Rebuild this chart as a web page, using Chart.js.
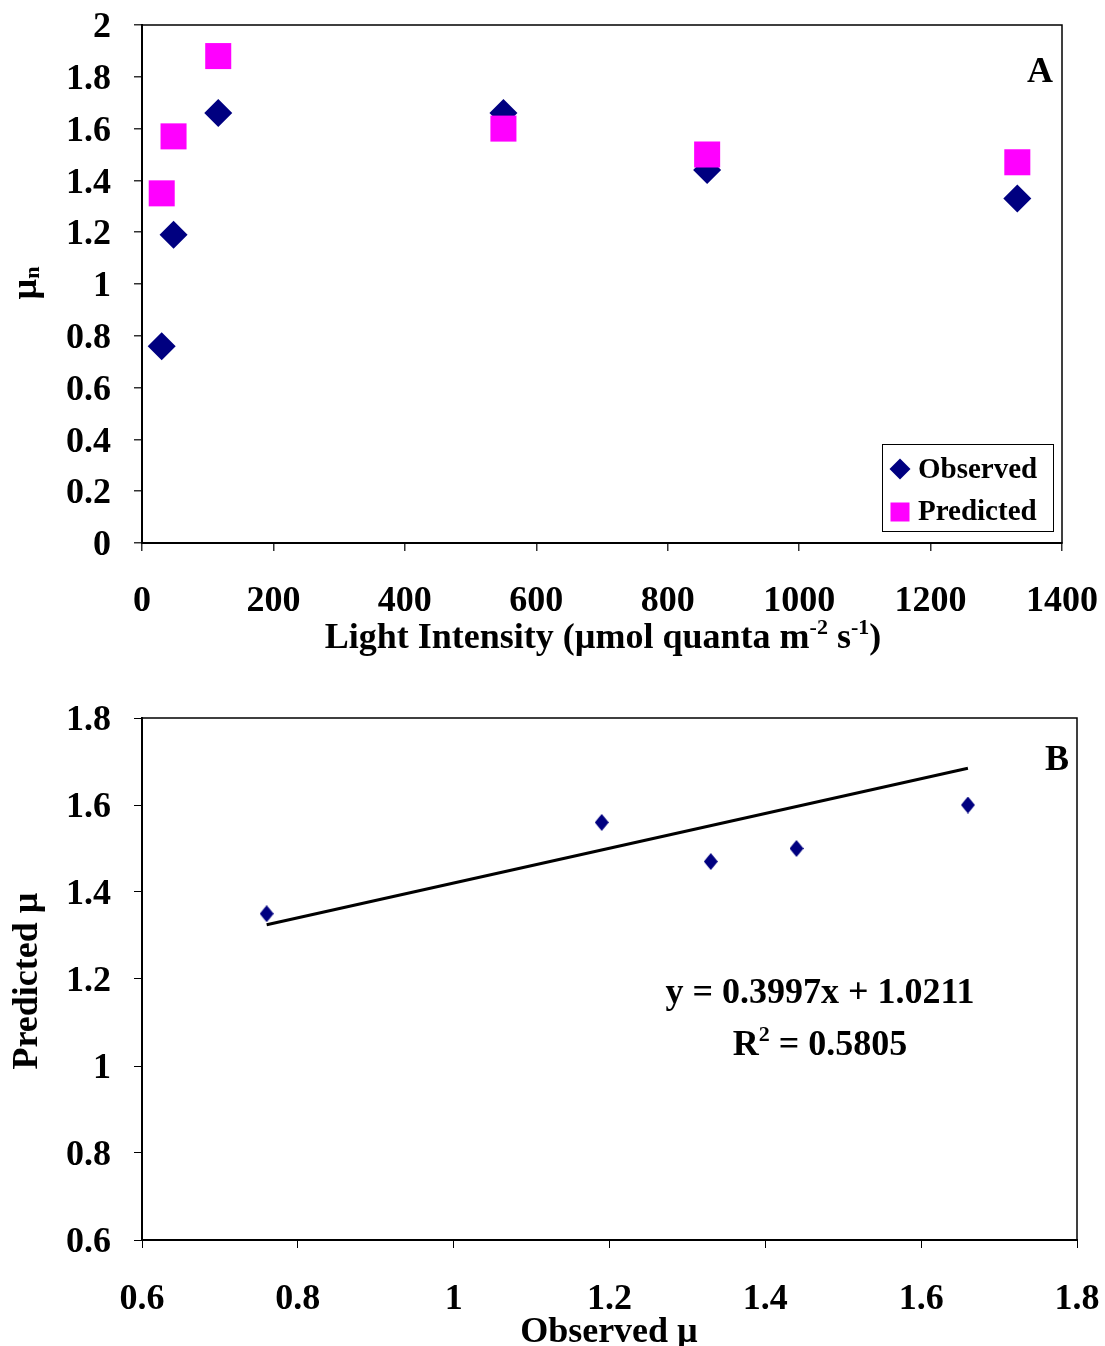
<!DOCTYPE html>
<html>
<head>
<meta charset="utf-8">
<script src="https://cdn.jsdelivr.net/npm/chart.js@4.4.1/dist/chart.umd.min.js"></script>
<style>
body{margin:0;background:#fff;}
#cajaA{position:absolute;left:0;top:0;width:1105px;height:665px;}
#cajaB{position:absolute;left:0;top:665px;width:1105px;height:681px;}
</style>
</head>
<body>
<div id="cajaA"><canvas id="chart_A"></canvas></div>
<div id="cajaB"><canvas id="chart_B"></canvas></div>
<script>
// panel A data
let luz = [30, 48, 116, 550, 860, 1332];
let observado = [0.76, 1.19, 1.66, 1.66, 1.44, 1.33];
let predicho = [1.35, 1.57, 1.88, 1.60, 1.50, 1.47];

// panel B data
let obsB = [0.76, 1.19, 1.33, 1.44, 1.66];
let predB = [1.35, 1.56, 1.47, 1.50, 1.60];
let pendiente = 0.3997;
let intercepto = 1.0211;

let serif = "'Liberation Serif', 'Times New Roman', serif";
Chart.defaults.font.family = serif;
Chart.defaults.font.weight = 'bold';
Chart.defaults.color = '#000';

function texto(ctx, partes, x, y, rot) {
    ctx.save();
    ctx.translate(x, y);
    if (rot) ctx.rotate(rot);
    ctx.textBaseline = 'alphabetic';
    ctx.textAlign = 'left';
    ctx.fillStyle = '#000';
    let total = 0;
    partes.forEach(p => { ctx.font = 'bold ' + p.s + 'px ' + serif; total += ctx.measureText(p.t).width; });
    let cx = -total / 2;
    partes.forEach(p => {
        ctx.font = 'bold ' + p.s + 'px ' + serif;
        ctx.fillText(p.t, cx, p.dy || 0);
        cx += ctx.measureText(p.t).width;
    });
    ctx.restore();
}

function marco(chart) {
    let a = chart.chartArea, ctx = chart.ctx;
    ctx.save();
    ctx.strokeStyle = '#000';
    ctx.lineWidth = 1.5;
    ctx.strokeRect(a.left, a.top, a.right - a.left, a.bottom - a.top);
    ctx.restore();
}

// keep the plot area where layout padding puts it
function fijar(ancho, alto) {
    return s => {
        if (ancho) s.width = ancho;
        if (alto) s.height = alto;
        s.paddingTop = 0; s.paddingBottom = 0; s.paddingLeft = 0; s.paddingRight = 0;
    };
}

let etiqueta = v => String(Math.round(v * 10) / 10);
let ejeTicks = {font: {size: 36, weight: 'bold'}, color: '#000', callback: etiqueta};

let extrasA = {
    id: 'extrasA',
    afterDraw(chart) {
        let ctx = chart.ctx;
        marco(chart);
        texto(ctx, [{t: 'Light Intensity (µmol quanta m', s: 36}, {t: '-2', s: 22, dy: -14}, {t: ' s', s: 36}, {t: '-1', s: 22, dy: -14}, {t: ')', s: 36}], 603, 648);
        texto(ctx, [{t: 'µ', s: 36}, {t: 'n', s: 22, dy: 3}], 36, 283, -Math.PI / 2);
        texto(ctx, [{t: 'A', s: 36}], 1040, 82);
        // legend
        ctx.save();
        ctx.strokeStyle = '#000';
        ctx.lineWidth = 1;
        ctx.strokeRect(882.5, 444.5, 171, 87);
        ctx.fillStyle = '#000080';
        ctx.beginPath();
        ctx.moveTo(900, 458.5); ctx.lineTo(910.5, 469); ctx.lineTo(900, 479.5); ctx.lineTo(889.5, 469);
        ctx.closePath(); ctx.fill();
        ctx.fillStyle = '#FF00FF';
        ctx.fillRect(890.5, 502.5, 19, 19);
        ctx.fillStyle = '#000';
        ctx.font = 'bold 29px ' + serif;
        ctx.textAlign = 'left';
        ctx.fillText('Observed', 918, 478);
        ctx.fillText('Predicted', 918, 520);
        ctx.restore();
    }
};

let extrasB = {
    id: 'extrasB',
    afterDraw(chart) {
        let ctx = chart.ctx;
        marco(chart);
        texto(ctx, [{t: 'Observed µ', s: 36}], 609, 677);
        texto(ctx, [{t: 'Predicted µ', s: 36}], 37, 316, -Math.PI / 2);
        texto(ctx, [{t: 'B', s: 36}], 1057, 105);
        texto(ctx, [{t: 'y = 0.3997x + 1.0211', s: 36}], 820, 338);
        texto(ctx, [{t: 'R', s: 36}, {t: '2', s: 22, dy: -14}, {t: ' = 0.5805', s: 36}], 820, 390);
    }
};

// narrow diamond for panel B
let rombo = document.createElement('canvas');
rombo.width = 14; rombo.height = 17;
let rc = rombo.getContext('2d');
rc.fillStyle = '#000080';
rc.beginPath();
rc.moveTo(7, 0); rc.lineTo(14, 8.5); rc.lineTo(7, 17); rc.lineTo(0, 8.5);
rc.closePath(); rc.fill();

let ctxA = document.getElementById('chart_A');
let ctxB = document.getElementById('chart_B');

let graficoA = new Chart(ctxA, {
    type: 'scatter',
    data: {
        datasets: [
            {
                label: 'Observed',
                data: luz.map((v, i) => ({x: v, y: observado[i]})),
                backgroundColor: '#000080',
                borderColor: '#000080',
                borderWidth: 0,
                pointStyle: 'rectRot',
                pointRadius: 14,
                order: 1
            },
            {
                label: 'Predicted',
                data: luz.map((v, i) => ({x: v, y: predicho[i]})),
                backgroundColor: '#FF00FF',
                borderColor: '#FF00FF',
                borderWidth: 0,
                pointStyle: 'rect',
                pointRadius: 18.4,
                order: 0
            }
        ]
    },
    options: {
        responsive: true,
        maintainAspectRatio: false,
        animation: false,
        layout: {padding: {top: 25, right: 43, left: 0, bottom: 0}},
        scales: {
            x: {
                type: 'linear', min: 0, max: 1400,
                ticks: Object.assign({stepSize: 200, padding: 29, maxRotation: 0}, ejeTicks),
                grid: {drawOnChartArea: false, tickLength: 8, color: '#333', lineWidth: 1.5},
                border: {color: '#000', width: 2},
                afterFit: fijar(0, 122)
            },
            y: {
                min: 0, max: 2,
                ticks: Object.assign({stepSize: 0.2, padding: 23, labelOffset: 3}, ejeTicks),
                grid: {drawOnChartArea: false, tickLength: 8, color: '#333', lineWidth: 1.5},
                border: {color: '#000', width: 2},
                afterFit: fijar(142, 0)
            }
        },
        plugins: {legend: false, tooltip: {enabled: false}}
    },
    plugins: [extrasA]
});

let graficoB = new Chart(ctxB, {
    type: 'scatter',
    data: {
        datasets: [
            {
                label: 'Predicted vs Observed',
                data: obsB.map((v, i) => ({x: v, y: predB[i]})),
                pointStyle: rombo,
                pointRadius: 8,
                backgroundColor: '#000080',
                borderColor: '#000080'
            },
            {
                label: 'Linear',
                data: [Math.min(...obsB), Math.max(...obsB)].map(v => ({x: v, y: pendiente * v + intercepto})),
                showLine: true,
                borderColor: '#000',
                borderWidth: 3,
                pointRadius: 0
            }
        ]
    },
    options: {
        responsive: true,
        maintainAspectRatio: false,
        animation: false,
        layout: {padding: {top: 53, right: 28, left: 0, bottom: 0}},
        scales: {
            x: {
                type: 'linear', min: 0.6, max: 1.8,
                ticks: Object.assign({stepSize: 0.2, padding: 30, maxRotation: 0}, ejeTicks),
                grid: {drawOnChartArea: false, tickLength: 8, color: '#000', lineWidth: 1},
                border: {color: '#000', width: 2},
                afterFit: fijar(0, 106)
            },
            y: {
                min: 0.6, max: 1.8,
                ticks: Object.assign({stepSize: 0.2, padding: 23, labelOffset: 3}, ejeTicks),
                grid: {drawOnChartArea: false, tickLength: 8, color: '#000', lineWidth: 1},
                border: {color: '#000', width: 2},
                afterFit: fijar(142, 0)
            }
        },
        plugins: {legend: false, tooltip: {enabled: false}}
    },
    plugins: [extrasB]
});
</script>
</body>
</html>
